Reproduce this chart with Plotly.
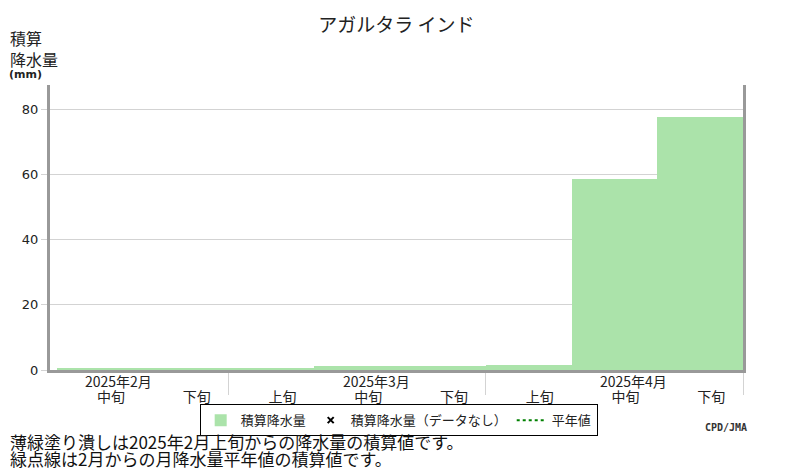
import numpy as np
import plotly.graph_objects as go

# 旬 (10-day periods), Feb-Apr 2025
months = ['2025年2月', '2025年3月', '2025年4月']
dekads = ['上旬', '中旬', '下旬']
# cumulative precipitation (mm) from 2025 Feb 中旬 to Apr 下旬
cum_precip = [0.6, 0.6, 0.6, 1.3, 1.3, 1.6, 58.5, 77.5]
first_dekad = 1  # index of Feb 中旬

GREEN = '#abe3aa'
AXIS = '#999999'
GRID = '#d3d3d3'
JP = 'Noto Sans CJK JP'

bar_x = [first_dekad + i + 0.5 for i in range(len(cum_precip))]
tick_x = [i + 0.5 for i in range(len(months) * len(dekads))]
tick_text = dekads * len(months)

fig = go.Figure()
fig.add_trace(go.Bar(x=bar_x, y=cum_precip, width=1, name='積算降水量',
                     marker=dict(color=GREEN, line=dict(width=0))))
fig.add_trace(go.Scatter(x=[None], y=[None], mode='markers', name='積算降水量（データなし）',
                         marker=dict(symbol='x-thin', size=6, color='black',
                                     line=dict(width=2, color='black'))))
fig.add_trace(go.Scatter(x=[None], y=[None], mode='lines', name='平年値',
                         line=dict(color='green', width=2, dash='dot')))

# page body has an 8px margin, so the figure is 8px smaller than the window
fig.update_layout(
    width=792, height=462,
    margin=dict(l=42, r=57, t=77, b=100, autoexpand=False),
    paper_bgcolor='white', plot_bgcolor='white',
    bargap=0,
    font=dict(family=JP, size=15, color='#222'),
    title=dict(text='アガルタラ インド', x=0.5, xref='paper', y=0.962, yanchor='middle',
               font=dict(family=JP, size=19, color='#222')),
    showlegend=True,
    legend=dict(orientation='h', x=0.216, xanchor='left', y=-0.12, yanchor='top',
                bordercolor='black', borderwidth=1, font=dict(family=JP, size=13),
                itemwidth=30, tracegroupgap=0),
)

fig.update_xaxes(
    range=[first_dekad - 0.082, len(tick_x)], showgrid=False, zeroline=False,
    tickvals=tick_x, ticktext=tick_text, ticks='', ticklabelshift=11,
    ticklabelstandoff=12,
    showline=True, linecolor=AXIS, linewidth=3,
    minor=dict(tickvals=[3, 6, 9], ticks='outside', ticklen=22, tickcolor=GRID, tickwidth=1),
    tickfont=dict(family=JP, size=14, color='#222'),
)
fig.update_yaxes(
    range=[0, 87.4], tickvals=[0, 20, 40, 60, 80], showgrid=True, gridcolor=GRID,
    zeroline=False, ticks='outside', ticklen=6, tickcolor=GRID,
    showline=True, mirror=True, linecolor=AXIS, linewidth=3,
    tickfont=dict(family='DejaVu Sans', size=13, color='#222'),
)

# month labels under the axis
for i, m in enumerate(months):
    fig.add_annotation(x=i * len(dekads) + 1.5, y=0, xref='x', yref='paper', text=m,
                       showarrow=False, xshift=19, yshift=-11, yanchor='middle',
                       font=dict(family=JP, size=14, color='#222'))

fig.add_annotation(x=0, y=1, xref='paper', yref='paper', xanchor='left', yanchor='top',
                   xshift=-42, yshift=61, align='left', showarrow=False,
                   text='積算<br>降水量', font=dict(family=JP, size=16, color='#222'))
fig.add_annotation(x=0, y=1, xref='paper', yref='paper', xanchor='left', yanchor='middle',
                   xshift=-43, yshift=11, showarrow=False,
                   text='<b>(mm)</b>', font=dict(family='DejaVu Sans', size=11, color='#222'))
fig.add_annotation(x=1, y=0, xref='paper', yref='paper', xanchor='right', yanchor='middle',
                   xshift=6, yshift=-57, showarrow=False,
                   text='<b>CPD/JMA</b>', font=dict(family='DejaVu Sans Mono', size=10, color='#333'))
fig.add_annotation(x=0, y=0, xref='paper', yref='paper', xanchor='left', yanchor='middle',
                   xshift=-42, yshift=-71, showarrow=False,
                   text='薄緑塗り潰しは2025年2月上旬からの降水量の積算値です。',
                   font=dict(family=JP, size=17, color='#111'))
fig.add_annotation(x=0, y=0, xref='paper', yref='paper', xanchor='left', yanchor='middle',
                   xshift=-42, yshift=-88, showarrow=False,
                   text='緑点線は2月からの月降水量平年値の積算値です。',
                   font=dict(family=JP, size=17, color='#111'))

fig.write_html('out.html')
